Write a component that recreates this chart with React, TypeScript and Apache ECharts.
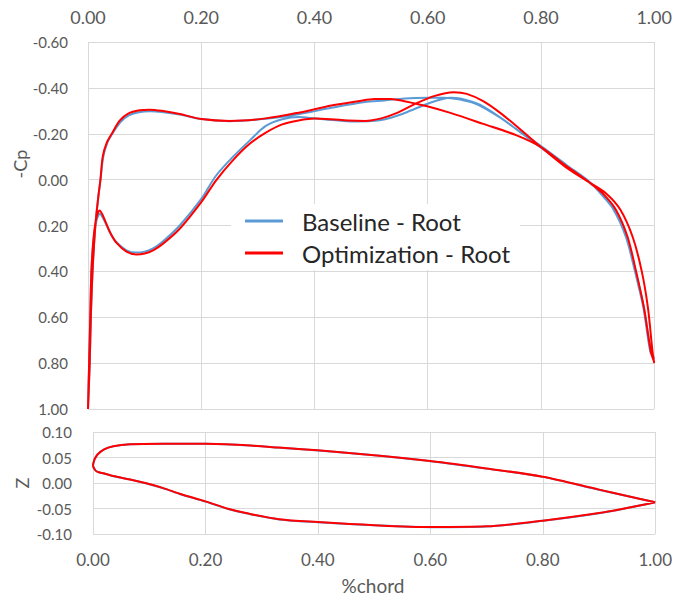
import React, { useEffect, useRef } from "react";
import * as echarts from "echarts";

// ---- Cp distribution (x = %chord, value on "-Cp" axis) ----
// Baseline, branch A (suction side), leading edge -> trailing edge
const baseUpperX = [0.0, 0.003, 0.005, 0.008, 0.013, 0.018, 0.022, 0.027, 0.034, 0.043, 0.057, 0.072, 0.092, 0.11, 0.13, 0.162, 0.2, 0.25, 0.314, 0.372, 0.43, 0.489, 0.524, 0.559, 0.6, 0.628, 0.657, 0.687, 0.728, 0.757, 0.8, 0.845, 0.886, 0.905, 0.928, 0.95, 0.966, 0.981, 0.993, 1.0];
const baseUpperCp = [1.0, 0.8, 0.6, 0.4, 0.2, 0.08, 0.0, -0.1, -0.16, -0.2, -0.25, -0.28, -0.295, -0.298, -0.295, -0.284, -0.264, -0.255, -0.265, -0.285, -0.313, -0.338, -0.345, -0.354, -0.357, -0.357, -0.349, -0.328, -0.27, -0.219, -0.146, -0.064, 0.01, 0.06, 0.13, 0.25, 0.4, 0.56, 0.75, 0.78];
// Baseline, branch B, leading edge -> trailing edge
const baseLowerX = [0.0, 0.002, 0.004, 0.006, 0.01, 0.015, 0.021, 0.026, 0.032, 0.04, 0.05, 0.068, 0.085, 0.1, 0.115, 0.132, 0.162, 0.2, 0.226, 0.255, 0.285, 0.314, 0.343, 0.372, 0.401, 0.442, 0.477, 0.512, 0.535, 0.564, 0.6, 0.64, 0.657, 0.687, 0.716, 0.757, 0.8, 0.845, 0.886, 0.907, 0.93, 0.951, 0.967, 0.982, 0.994, 1.0];
const baseLowerCp = [1.0, 0.8, 0.6, 0.4, 0.26, 0.178, 0.149, 0.165, 0.195, 0.236, 0.272, 0.308, 0.318, 0.314, 0.3, 0.27, 0.2, 0.084, -0.017, -0.097, -0.169, -0.234, -0.263, -0.273, -0.267, -0.258, -0.253, -0.258, -0.27, -0.295, -0.331, -0.357, -0.354, -0.332, -0.291, -0.219, -0.139, -0.059, 0.013, 0.06, 0.13, 0.25, 0.4, 0.56, 0.75, 0.78];

// Optimization, branch A
const optUpperX = [0.0, 0.003, 0.005, 0.008, 0.013, 0.018, 0.022, 0.026, 0.033, 0.042, 0.056, 0.071, 0.091, 0.109, 0.13, 0.162, 0.2, 0.25, 0.314, 0.372, 0.43, 0.477, 0.506, 0.535, 0.559, 0.599, 0.64, 0.698, 0.757, 0.8, 0.845, 0.886, 0.909, 0.932, 0.953, 0.968, 0.982, 0.994, 1.0];
const optUpperCp = [1.0, 0.8, 0.6, 0.4, 0.2, 0.08, 0.0, -0.1, -0.16, -0.2, -0.257, -0.288, -0.302, -0.305, -0.3, -0.286, -0.264, -0.256, -0.267, -0.292, -0.323, -0.342, -0.352, -0.352, -0.342, -0.32, -0.291, -0.243, -0.193, -0.142, -0.059, 0.013, 0.06, 0.13, 0.25, 0.4, 0.56, 0.75, 0.796];
// Optimization, branch B
const optLowerX = [0.0, 0.002, 0.004, 0.006, 0.01, 0.015, 0.0206, 0.026, 0.032, 0.04, 0.05, 0.068, 0.085, 0.1, 0.115, 0.132, 0.162, 0.2, 0.226, 0.255, 0.285, 0.314, 0.343, 0.372, 0.401, 0.43, 0.459, 0.489, 0.518, 0.547, 0.576, 0.611, 0.646, 0.669, 0.698, 0.728, 0.757, 0.8, 0.845, 0.886, 0.915, 0.94, 0.962, 0.978, 0.989, 0.997, 1.0];
const optLowerCp = [1.0, 0.8, 0.6, 0.4, 0.25, 0.165, 0.135, 0.155, 0.19, 0.235, 0.275, 0.314, 0.326, 0.322, 0.308, 0.28, 0.214, 0.098, 0.004, -0.082, -0.155, -0.205, -0.241, -0.258, -0.266, -0.263, -0.258, -0.256, -0.267, -0.292, -0.328, -0.364, -0.381, -0.374, -0.342, -0.291, -0.233, -0.142, -0.052, 0.013, 0.06, 0.13, 0.25, 0.4, 0.56, 0.75, 0.8];

// ---- Airfoil section (x = %chord, Z) ----
const optSurfUpperX = [0.0, 0.001, 0.003, 0.008, 0.019, 0.036, 0.066, 0.125, 0.2, 0.272, 0.331, 0.4, 0.5, 0.6, 0.7, 0.8, 0.9, 0.95, 1.0];
const optSurfUpperZ = [0.035, 0.04, 0.047, 0.056, 0.0656, 0.072, 0.076, 0.077, 0.077, 0.074, 0.0695, 0.064, 0.0545, 0.043, 0.0285, 0.0123, -0.013, -0.0255, -0.0377];
const optSurfLowerX = [0.0, 0.004, 0.01, 0.019, 0.036, 0.066, 0.095, 0.125, 0.154, 0.2, 0.242, 0.272, 0.331, 0.4, 0.5, 0.6, 0.7, 0.8, 0.9, 0.95, 1.0];
const optSurfLowerZ = [0.035, 0.025, 0.021, 0.019, 0.0136, 0.007, -0.0006, -0.01, -0.021, -0.036, -0.051, -0.059, -0.071, -0.0766, -0.0828, -0.0864, -0.085, -0.074, -0.059, -0.049, -0.0377];
const baseSurfUpperX = [0.0, 0.001, 0.003, 0.008, 0.019, 0.036, 0.066, 0.125, 0.2, 0.272, 0.331, 0.4, 0.5, 0.6, 0.7, 0.8, 0.9, 0.95, 1.0];
const baseSurfUpperZ = [0.035, 0.04, 0.047, 0.056, 0.0655, 0.0718, 0.0758, 0.0768, 0.0768, 0.0738, 0.0693, 0.0638, 0.0542, 0.0428, 0.0282, 0.012, -0.0132, -0.0256, -0.0377];
const baseSurfLowerX = [0.0, 0.004, 0.01, 0.019, 0.036, 0.066, 0.095, 0.125, 0.154, 0.2, 0.242, 0.272, 0.331, 0.4, 0.5, 0.6, 0.7, 0.8, 0.9, 0.95, 1.0];
const baseSurfLowerZ = [0.035, 0.025, 0.021, 0.0188, 0.0134, 0.0067, -0.001, -0.0105, -0.0215, -0.0366, -0.0515, -0.0595, -0.0714, -0.0769, -0.083, -0.0866, -0.0852, -0.0742, -0.0592, -0.0491, -0.0377];

const seriesNames = ["Baseline - Root", "Optimization - Root"];
const colors = ["#5B9BD5", "#FF0000"];

function loop(ux: number[], uy: number[], lx: number[], ly: number[]) {
  const pts: number[][] = [];
  for (let i = ux.length - 1; i >= 0; i--) pts.push([ux[i], uy[i]]);
  for (let i = 1; i < lx.length; i++) pts.push([lx[i], ly[i]]);
  return pts;
}

const FONT = "Lato";
const LABEL_COLOR = "#595959";
const GRID_COLOR = "#d9d9d9";

export default function App() {
  const ref = useRef<HTMLDivElement>(null);
  useEffect(() => {
    if (!ref.current) return;
    const chart = echarts.init(ref.current, undefined, { renderer: "svg" });
    const fmt = (v: number) => v.toFixed(2);
    const lineBase = (name: string, color: string, data: number[][], xi: number, yi: number, z: number) => ({
      name,
      type: "line",
      xAxisIndex: xi,
      yAxisIndex: yi,
      data,
      showSymbol: false,
      symbol: "none",
      smooth: 0.3,
      z,
      lineStyle: { color, width: 2 },
      itemStyle: { color },
    });
    chart.setOption({
      animation: false,
      backgroundColor: "#ffffff",
      textStyle: { fontFamily: FONT },
      grid: [
        { left: 88, top: 42, width: 570, height: 367 },
        { left: 93, top: 432, width: 566, height: 102 },
      ],
      xAxis: [
        {
          type: "value",
          gridIndex: 0,
          position: "top",
          min: 0,
          max: 1,
          interval: 0.2,
          axisLine: { show: false },
          axisTick: { show: false },
          axisLabel: { formatter: fmt, color: LABEL_COLOR, fontSize: 18, fontFamily: FONT, margin: 16 },
          splitLine: { show: true, lineStyle: { color: GRID_COLOR, width: 1 } },
        },
        {
          type: "value",
          gridIndex: 1,
          position: "bottom",
          min: 0,
          max: 1,
          interval: 0.2,
          axisLine: { show: false },
          axisTick: { show: false },
          axisLabel: { formatter: fmt, color: LABEL_COLOR, fontSize: 17, fontFamily: FONT, margin: 17 },
          splitLine: { show: true, lineStyle: { color: GRID_COLOR, width: 1 } },
        },
      ],
      yAxis: [
        {
          type: "value",
          gridIndex: 0,
          inverse: true,
          min: -0.6,
          max: 1.0,
          interval: 0.2,
          axisLine: { show: false },
          axisTick: { show: false },
          axisLabel: { formatter: fmt, color: LABEL_COLOR, fontSize: 15, fontFamily: FONT, margin: 20 },
          splitLine: { show: true, lineStyle: { color: GRID_COLOR, width: 1 } },
        },
        {
          type: "value",
          gridIndex: 1,
          min: -0.1,
          max: 0.1,
          interval: 0.05,
          axisLine: { show: false },
          axisTick: { show: false },
          axisLabel: { formatter: fmt, color: LABEL_COLOR, fontSize: 15, fontFamily: FONT, margin: 21 },
          splitLine: { show: true, lineStyle: { color: GRID_COLOR, width: 1 } },
        },
      ],
      legend: {
        data: seriesNames,
        orient: "vertical",
        left: 231,
        top: 204,
        icon: "rect",
        backgroundColor: "#ffffff",
        padding: [5, 10, 5, 14],
        itemWidth: 38,
        itemHeight: 3,
        itemGap: 8,
        textStyle: { fontSize: 24, fontFamily: FONT, color: "#262626", padding: [0, 0, 0, 14] },
      },
      graphic: [
        {
          type: "text",
          x: 20,
          y: 164,
          rotation: Math.PI / 2,
          style: { text: "-Cp", fontSize: 18, fontFamily: FONT, fill: LABEL_COLOR, align: "center", verticalAlign: "middle" },
        },
        {
          type: "text",
          x: 22,
          y: 483,
          rotation: Math.PI / 2,
          style: { text: "Z", fontSize: 18, fontFamily: FONT, fill: LABEL_COLOR, align: "center", verticalAlign: "middle" },
        },
        {
          type: "text",
          x: 373,
          y: 585,
          style: { text: "%chord", fontSize: 19, fontFamily: FONT, fill: LABEL_COLOR, align: "center", verticalAlign: "middle" },
        },
      ],
      series: [
        lineBase(seriesNames[0], colors[0], loop(baseUpperX, baseUpperCp, baseLowerX, baseLowerCp), 0, 0, 2),
        lineBase(seriesNames[1], colors[1], loop(optUpperX, optUpperCp, optLowerX, optLowerCp), 0, 0, 3),
        lineBase(seriesNames[0], colors[0], loop(baseSurfUpperX, baseSurfUpperZ, baseSurfLowerX, baseSurfLowerZ), 1, 1, 2),
        lineBase(seriesNames[1], colors[1], loop(optSurfUpperX, optSurfUpperZ, optSurfLowerX, optSurfLowerZ), 1, 1, 3),
      ],
    });
    return () => chart.dispose();
  }, []);
  return <div ref={ref} style={{ width: 675, height: 595, position: "absolute", left: 0, top: 0 }} />;
}
